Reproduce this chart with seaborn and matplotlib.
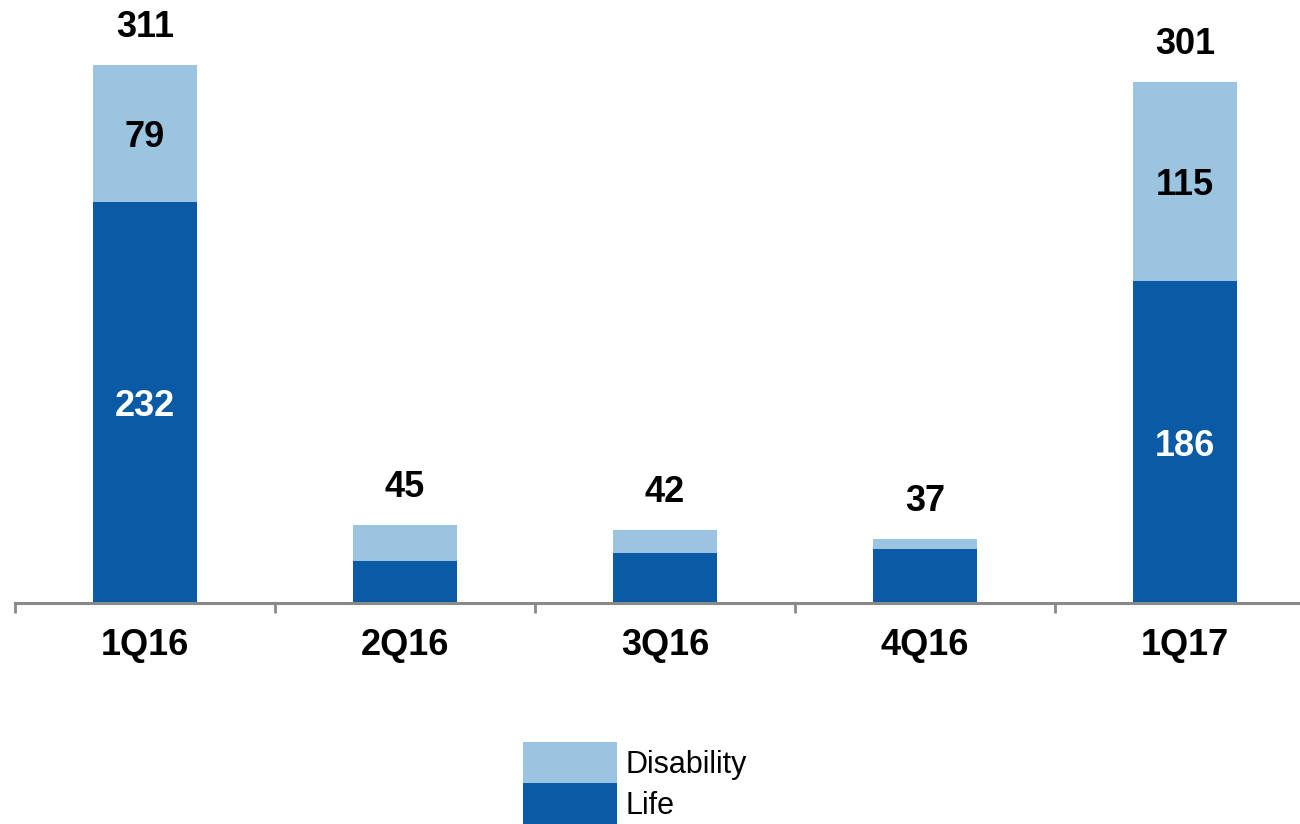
import pandas as pd
import seaborn as sns
import matplotlib.pyplot as plt
from matplotlib.patches import Patch
import numpy as np

# chart data
quarters = ['1Q16', '2Q16', '3Q16', '4Q16', '1Q17']
life = [232, 24, 29, 31, 186]
disability = [79, 21, 13, 6, 115]
totals = [311, 45, 42, 37, 301]
# inner labels only shown for the big bars
show_inner = [True, False, False, False, True]

dark_blue = '#0A5AA5'
light_blue = '#9AC4DF'
axis_grey = '#898989'

df = pd.DataFrame({'quarter': quarters, 'life': life, 'disability': disability})
df['stack_top'] = df['life'] + df['disability']

sns.set_style('white')
plt.rcParams['font.family'] = ['Liberation Sans', 'DejaVu Sans']

fig = plt.figure(figsize=(13, 8.24), dpi=100)
ax = fig.add_axes([15 / 1300, 221 / 824, 1300 / 1300, 603 / 824])

sns.barplot(data=df, x='quarter', y='stack_top', color=light_blue, saturation=1,
            width=0.4, linewidth=0, ax=ax)
sns.barplot(data=df, x='quarter', y='life', color=dark_blue, saturation=1,
            width=0.4, linewidth=0, ax=ax)

ax.set_xlim(-0.5, 4.5)
ax.set_ylim(0, 348.5)
ax.set_xlabel('')
ax.set_ylabel('')
ax.set_yticks([])

for side in ['top', 'left', 'right']:
    ax.spines[side].set_visible(False)
ax.spines['bottom'].set_color(axis_grey)
ax.spines['bottom'].set_linewidth(2.2)

ax.set_xticks(np.arange(-0.5, 5.0, 1.0), minor=True)
ax.tick_params(axis='x', which='minor', bottom=True, direction='out', length=7, width=2,
               color=axis_grey)
ax.tick_params(axis='x', which='major', bottom=True, length=0, pad=18, labelcolor='black')
for lbl in ax.get_xticklabels():
    lbl.set_fontsize(26)
    lbl.set_fontweight('bold')

# labels
for i in range(len(quarters)):
    ax.annotate(str(totals[i]), xy=(i, df['stack_top'][i]), xytext=(0, 27),
                textcoords='offset points', ha='center', va='center',
                fontsize=26, fontweight='bold', color='black')
    if show_inner[i]:
        ax.annotate(str(disability[i]), xy=(i, life[i] + disability[i] / 2), xytext=(0, -3),
                    textcoords='offset points', ha='center', va='center',
                    fontsize=26, fontweight='bold', color='black')
        ax.annotate(str(life[i]), xy=(i, life[i] / 2), xytext=(0, -3),
                    textcoords='offset points', ha='center', va='center',
                    fontsize=26, fontweight='bold', color='white')

handles = [Patch(facecolor=light_blue, edgecolor='none', label='Disability'),
           Patch(facecolor=dark_blue, edgecolor='none', label='Life')]
fig.legend(handles=handles, loc='upper left', bbox_to_anchor=(523 / 1300, 1 - 742 / 824),
           frameon=False, fontsize=22, handlelength=3.08, handleheight=1.7,
           labelspacing=0, handletextpad=0.26, borderpad=0, borderaxespad=0,
           labelcolor='black')

fig.savefig('out.png', dpi=100)
